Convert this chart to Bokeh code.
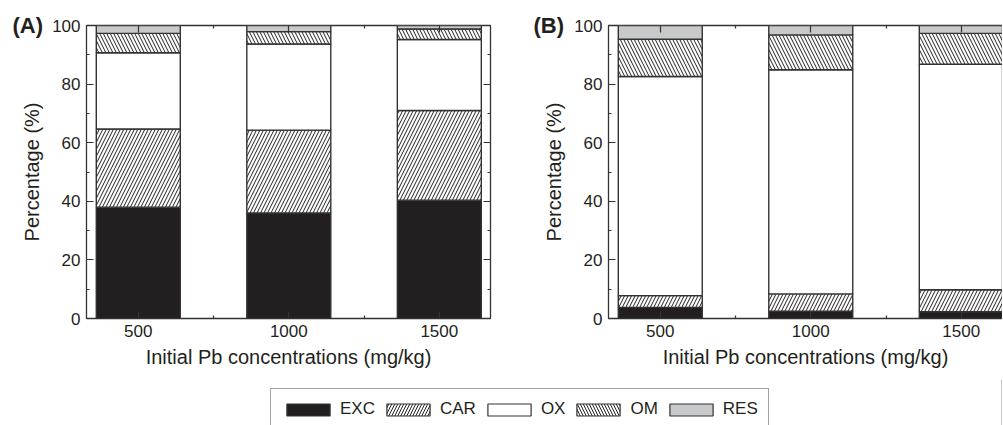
from bokeh.plotting import figure
from bokeh.models import (ColumnDataSource, Range1d, FixedTicker, SingleIntervalTicker,
                          LinearAxis, Label, Legend, LegendItem)
from bokeh.layouts import row, column
from bokeh.embed import file_html
from bokeh.resources import INLINE

# ---------------- data ----------------
concentrations = [500, 1000, 1500]
fractions = ["EXC", "CAR", "OX", "OM", "RES"]

a_exc = [38.0, 36.0, 40.4]
a_car = [26.7, 28.3, 30.6]
a_ox = [26.0, 29.4, 24.2]
a_om = [6.6, 4.2, 3.6]
a_res = [2.7, 2.1, 1.2]

b_exc = [3.8, 2.5, 2.3]
b_car = [4.0, 5.9, 7.5]
b_ox = [74.8, 76.5, 77.0]
b_om = [12.7, 11.9, 10.5]
b_res = [4.7, 3.2, 2.7]

panel_labels = ["(A)", "(B)"]
x_axis_title = "Initial Pb concentrations (mg/kg)"
y_axis_title = "Percentage (%)"

# ---------------- styles ----------------
FONT = "Liberation Sans"
INK = "#231f20"
EDGE = "#333333"
fills = ["#231f20", "white", "white", "white", "#c8c9ca"]
hatches = [" ", "/", " ", "\\", " "]
minor_x = [(concentrations[i] + concentrations[i + 1]) / 2 for i in range(len(concentrations) - 1)]


def style_axis(ax, labels=True):
    ax.axis_line_color = None
    ax.major_tick_line_color = EDGE
    ax.minor_tick_line_color = EDGE
    ax.major_tick_line_width = 1.2
    ax.minor_tick_line_width = 1.2
    ax.major_tick_in = 7
    ax.major_tick_out = 0
    ax.minor_tick_in = 3
    ax.minor_tick_out = 0
    if labels:
        ax.major_label_text_font = FONT
        ax.major_label_text_font_size = "17px"
        ax.major_label_text_color = INK
        ax.major_label_standoff = 6
        ax.axis_label_text_font = FONT
        ax.axis_label_text_font_size = "20px"
        ax.axis_label_text_font_style = "normal"
        ax.axis_label_text_color = INK
        ax.axis_label_standoff = 6
    else:
        ax.major_label_text_font_size = "1px"
        ax.major_label_text_color = None
        ax.major_label_standoff = 0


def make_panel(vals, label, width, x_end, mb_left, mb_right, right_axis, label_x, label_side):
    data = {"x": concentrations}
    for f, v in zip(fractions, vals):
        data[f] = v
    src = ColumnDataSource(data)
    p = figure(width=width, height=380, x_range=Range1d(328, x_end),
               y_range=Range1d(0, 100), output_backend="svg", toolbar_location=None,
               min_border_left=mb_left, min_border_right=mb_right,
               min_border_top=18, min_border_bottom=62)
    p.xgrid.visible = False
    p.ygrid.visible = False
    p.outline_line_color = EDGE
    p.outline_line_width = 1.3
    p.background_fill_color = "white"
    p.border_fill_color = "white"

    p.vbar_stack(fractions, x="x", width=279, source=src,
                 fill_color=fills, hatch_pattern=hatches,
                 hatch_color=INK, hatch_scale=7, hatch_weight=1,
                 line_color=EDGE, line_width=1.4)

    p.xaxis.ticker = FixedTicker(ticks=concentrations, minor_ticks=minor_x)
    p.yaxis.ticker = SingleIntervalTicker(interval=20, num_minor_ticks=2)
    p.xaxis.axis_label = x_axis_title
    p.yaxis.axis_label = y_axis_title
    style_axis(p.xaxis[0])
    style_axis(p.yaxis[0])

    top = LinearAxis(ticker=FixedTicker(ticks=concentrations, minor_ticks=minor_x))
    style_axis(top, labels=False)
    p.add_layout(top, "above")
    if right_axis:
        rt = LinearAxis(ticker=SingleIntervalTicker(interval=20, num_minor_ticks=2))
        style_axis(rt, labels=False)
        p.add_layout(rt, "right")

    # panel letter, placed in a side panel so it is not clipped by the frame
    p.add_layout(Label(x=label_x, y=25, x_units="canvas", y_units="canvas", text=label,
                       text_font=FONT, text_font_style="bold", text_font_size="22px",
                       text_color=INK, text_baseline="middle"),
                 label_side)
    return p


pA = make_panel([a_exc, a_car, a_ox, a_om, a_res], panel_labels[0],
                width=500, x_end=1670, mb_left=86, mb_right=10, right_axis=True,
                label_x=12, label_side="above")
pB = make_panel([b_exc, b_car, b_ox, b_om, b_res], panel_labels[1],
                width=502, x_end=1637, mb_left=108, mb_right=0, right_axis=False,
                label_x=33, label_side="left")

# ---------------- legend ----------------
pL = figure(width=1002, height=45, x_range=Range1d(0, 1), y_range=Range1d(0, 1),
            output_backend="svg", toolbar_location=None, min_border=0)
pL.axis.visible = False
pL.grid.visible = False
pL.outline_line_color = None
leg_src = ColumnDataSource({"x": concentrations,
                            **{f: v for f, v in zip(fractions, [a_exc, a_car, a_ox, a_om, a_res])}})
rs = pL.vbar_stack(fractions, x="x", width=1, source=leg_src,
                   fill_color=fills, hatch_pattern=hatches,
                   hatch_color=INK, hatch_scale=6, hatch_weight=1,
                   line_color=EDGE, line_width=1.2)
legend = Legend(items=[LegendItem(label=f, renderers=[r]) for f, r in zip(fractions, rs)],
                orientation="horizontal", location=(270, -5), margin=0,
                glyph_width=54, glyph_height=15, label_standoff=5, spacing=6, padding=10,
                border_line_color="#444444", border_line_width=1.3,
                label_text_font=FONT, label_text_font_size="17px", label_text_color=INK,
                background_fill_alpha=1.0)
pL.add_layout(legend, "center")

layout = column(row(pA, pB), pL)
open("out.html", "w").write(file_html(layout, INLINE))
